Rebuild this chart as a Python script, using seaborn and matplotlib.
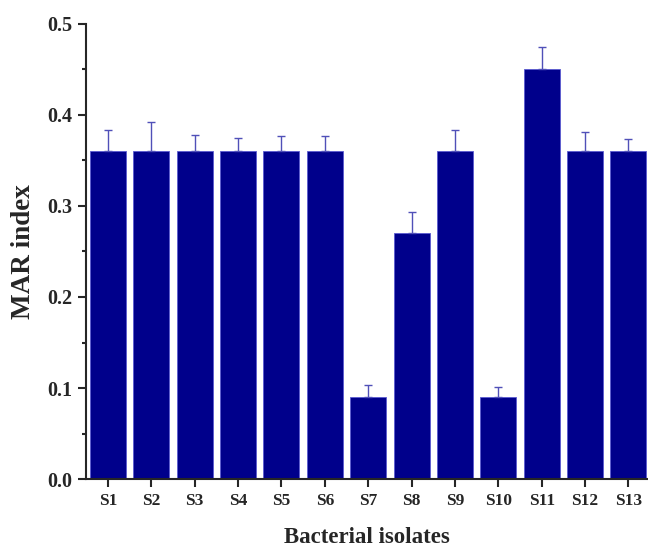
import numpy as np
import pandas as pd
import matplotlib
matplotlib.use('Agg')
import matplotlib.pyplot as plt
import seaborn as sns
from matplotlib.ticker import MultipleLocator

# Données
isolates = ['S1', 'S2', 'S3', 'S4', 'S5', 'S6', 'S7', 'S8', 'S9', 'S10', 'S11', 'S12', 'S13']
mar_index = [0.36, 0.36, 0.36, 0.36, 0.36, 0.36, 0.09, 0.27, 0.36, 0.09, 0.45, 0.36, 0.36]
err_top = [0.383, 0.392, 0.378, 0.375, 0.377, 0.377, 0.103, 0.293, 0.383, 0.101, 0.475, 0.381, 0.373]

df = pd.DataFrame({'isolate': isolates, 'mar': mar_index})
upper = np.array(err_top) - np.array(mar_index)

sns.set_style('ticks')
plt.rcParams['font.family'] = ['Liberation Serif', 'DejaVu Serif']
plt.rcParams['font.weight'] = 'bold'

fig = plt.figure(figsize=(6.48, 5.52), dpi=100)
ax = fig.add_axes([0.133, 0.132, 0.867, 0.825])

sns.barplot(data=df, x='isolate', y='mar', color='#00008B', saturation=1,
            width=0.83, edgecolor='#5a5ad0', linewidth=0.6, ax=ax)

ax.errorbar(np.arange(len(isolates)), df['mar'], yerr=[np.zeros(len(upper)), upper],
            fmt='none', ecolor='#5050b8', elinewidth=1.0, capsize=3, capthick=1.0)

ax.set_xlim(-0.5, 12.45)
ax.set_ylim(0, 0.5)
ax.yaxis.set_major_locator(MultipleLocator(0.1))
ax.yaxis.set_minor_locator(MultipleLocator(0.05))
ax.yaxis.set_major_formatter(matplotlib.ticker.FormatStrFormatter('%.1f'))

for s in ['top', 'right']:
    ax.spines[s].set_visible(False)
ax.spines['left'].set_linewidth(1.5)
ax.spines['bottom'].set_linewidth(1.5)
ax.tick_params(axis='x', which='major', direction='out', length=6, width=1.5, labelsize=12.5, pad=4)
ax.tick_params(axis='y', which='major', direction='out', length=6, width=1.5, labelsize=14.5, pad=4)
ax.tick_params(axis='y', which='minor', direction='out', length=3, width=1.5)

for lab in ax.get_xticklabels() + ax.get_yticklabels():
    lab.set_fontweight('bold')

ax.set_xlabel('Bacterial isolates', fontsize=16.5, fontweight='bold', labelpad=13)
ax.set_ylabel('MAR index', fontsize=19.5, fontweight='bold', labelpad=8)

fig.savefig('out.png', dpi=100)
